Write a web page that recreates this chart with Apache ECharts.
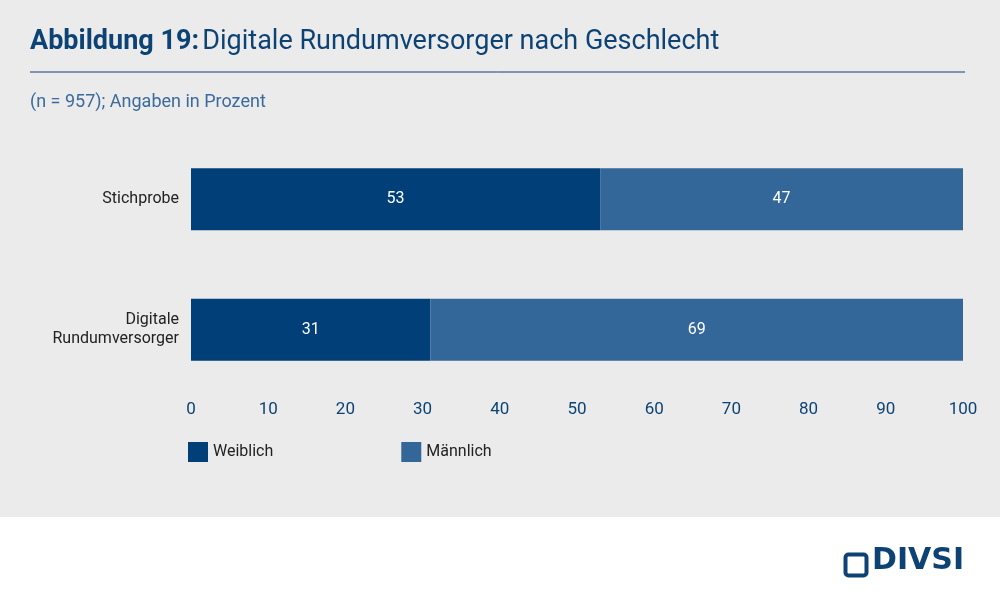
<!DOCTYPE html>
<html lang="de">
<head>
<meta charset="UTF-8" />
<title>Abbildung 19</title>
<script src="https://cdn.jsdelivr.net/npm/echarts@6/dist/echarts.min.js"></script>
<style>
  html, body { margin: 0; padding: 0; background: #fff; }
  #main { width: 1000px; height: 599px; }
</style>
</head>
<body>
<div id="main"></div>
<script>
  var categories = ["Digitale\nRundumversorger", "Stichprobe"];
  var weiblich = [31, 53];
  var maennlich = [69, 47];
  var xTicks = [0, 10, 20, 30, 40, 50, 60, 70, 80, 90, 100];

  var chart = echarts.init(document.getElementById("main"));
  var font = "Roboto";
  var option = {
    animation: false,
    backgroundColor: "#fff",
    textStyle: { fontFamily: font },
    graphic: [
      { type: "rect", left: 0, top: 0, shape: { width: 1000, height: 517 }, style: { fill: "#ebebeb" }, z: -10 },
      { type: "text", left: 30, top: 29, style: { rich: {
          b: { fontWeight: "bold", fontSize: 27, fill: "#0d4275", fontFamily: font },
          n: { fontSize: 27, fill: "#0d4275", fontFamily: font } },
          text: "{b|Abbildung 19:} {n|Digitale Rundumversorger nach Geschlecht}" } },
      { type: "line", shape: { x1: 30, y1: 72, x2: 965, y2: 72 }, style: { stroke: "#0d4275", lineWidth: 1 } },
      { type: "text", left: 30, top: 93, style: { text: "(n = 957); Angaben in Prozent", fontSize: 18, fill: "#3b6a9c", fontFamily: font } },
      { type: "rect", left: 843, top: 552, shape: { width: 21, height: 21, r: 3 }, style: { fill: "none", stroke: "#0d4275", lineWidth: 4 } },
      { type: "text", left: 872, top: 546, style: { text: "DIVSI", fontSize: 30, fontWeight: "bold", fill: "#0d4275", fontFamily: "DejaVu Sans" } }
    ],
    grid: { left: 191, right: 37, top: 134, bottom: 204 },
    legend: {
      left: 183, top: 437, itemWidth: 20, itemHeight: 20, itemGap: 128,
      icon: "rect",
      textStyle: { fontSize: 16, color: "#222" },
      data: ["Weiblich", "Männlich"]
    },
    xAxis: {
      type: "value", min: 0, max: 100, interval: 10,
      axisLine: { show: false }, axisTick: { show: false }, splitLine: { show: false },
      axisLabel: { color: "#0d4275", fontSize: 17, margin: 6,
        formatter: function (v) { return xTicks.indexOf(v) >= 0 ? v : ""; } }
    },
    yAxis: {
      type: "category", data: categories,
      axisLine: { show: false }, axisTick: { show: false },
      axisLabel: { color: "#222", fontSize: 16, margin: 12, align: "right", lineHeight: 19 }
    },
    series: [
      { name: "Weiblich", type: "bar", stack: "s", data: weiblich, barWidth: 62,
        itemStyle: { color: "#003f77" },
        label: { show: true, color: "#fff", fontSize: 16 } },
      { name: "Männlich", type: "bar", stack: "s", data: maennlich, barWidth: 62,
        itemStyle: { color: "#336699" },
        label: { show: true, color: "#fff", fontSize: 16 } }
    ]
  };
  chart.setOption(option);
</script>
</body>
</html>
